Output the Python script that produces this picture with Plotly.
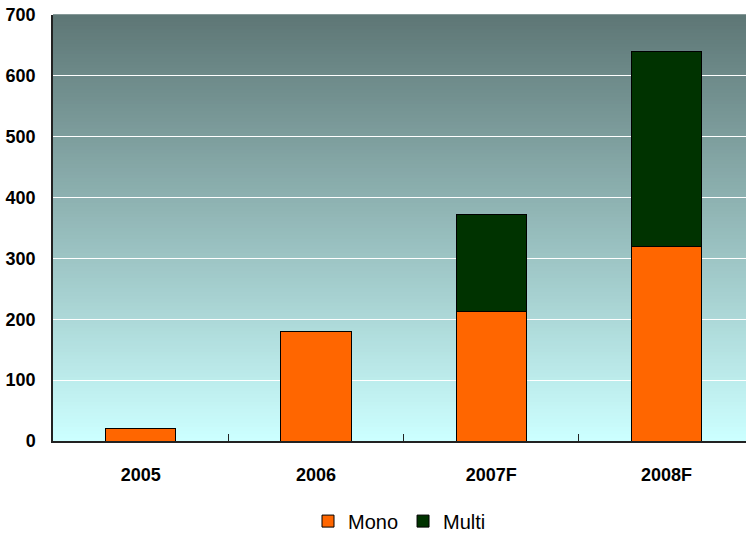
import plotly.graph_objects as go

categories = ["2005", "2006", "2007F", "2008F"]
mono = [21, 180, 212, 320]
multi = [0, 0, 161, 320]
y_ticks = [0, 100, 200, 300, 400, 500, 600, 700]

fig = go.Figure()
fig.add_trace(go.Bar(name="Mono", x=categories, y=mono,
                     marker=dict(color="#ff6600", line=dict(color="#000000", width=1))))
fig.add_trace(go.Bar(name="Multi", x=categories, y=[v if v > 0 else None for v in multi],
                     marker=dict(color="#003300", line=dict(color="#000000", width=1))))

# gradient background (top dark teal-gray -> bottom light cyan)
top = (94, 119, 118)
bot = (204, 255, 255)
n = 120
shapes = []
for i in range(n):
    t = i / (n - 1)
    c = tuple(round(bot[k] + (top[k] - bot[k]) * t) for k in range(3))
    shapes.append(dict(type="rect", xref="x domain", yref="y domain",
                       x0=0, x1=1, y0=i / n, y1=(i + 1) / n + 0.002,
                       fillcolor="rgb(%d,%d,%d)" % c, line=dict(width=0), layer="below"))

fig.update_layout(
    width=746, height=535,
    margin=dict(l=53, r=0, t=15, b=94, autoexpand=False),
    barmode="stack", bargap=0.6,
    paper_bgcolor="white", plot_bgcolor="rgba(0,0,0,0)",
    shapes=shapes,
    font=dict(family="Liberation Sans, Arial", color="black"),
    showlegend=True,
    legend=dict(orientation="h", x=0.5, xanchor="center", y=-0.188, yanchor="middle",
                font=dict(size=20), itemwidth=30, traceorder="normal"),
    xaxis=dict(range=[-0.5, 3.453], automargin=False,
               showline=True, linecolor="#222222", linewidth=1.5, ticks="inside",
               tickson="boundaries", ticklen=7, tickcolor="#222222",
               tickfont=dict(size=18, family="Liberation Sans, Arial", weight="bold"),
               ticklabelstandoff=17, showgrid=False),
    yaxis=dict(range=[0, 700], tickvals=y_ticks, automargin=False,
               showline=True, linecolor="#222222",
               linewidth=1.5, showgrid=True, gridcolor="white", gridwidth=1,
               tickfont=dict(size=18, family="Liberation Sans, Arial", weight="bold"),
               ticklabelstandoff=12, zeroline=False),
)

post = (
    "document.documentElement.style.overflow='hidden';"
    "document.body.style.margin='0';document.body.style.overflow='hidden';"
)

fig.write_html("out.html", config={"displayModeBar": False}, post_script=post)
